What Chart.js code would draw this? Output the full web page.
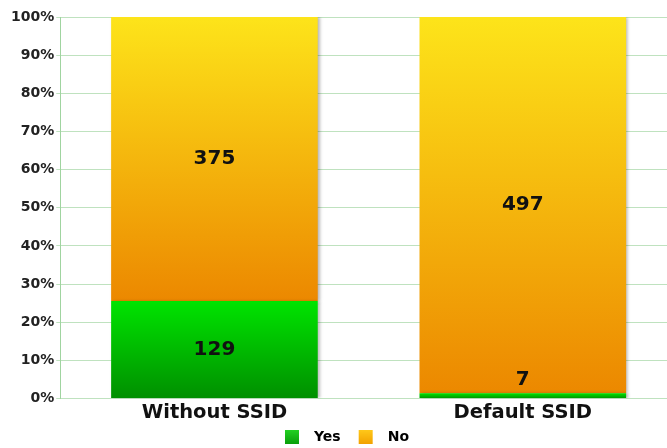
<!DOCTYPE html>
<html>
<head>
<meta charset="utf-8">
<script src="https://cdn.jsdelivr.net/npm/chart.js@4/dist/chart.umd.min.js"></script>
<style>
  html, body { margin: 0; padding: 0; background: #fff; overflow: hidden; }
  #wrap { position: relative; width: 677px; height: 448px; }
</style>
</head>
<body>
<div id="wrap"><canvas id="c"></canvas></div>
<script>
// Survey answers per SSID group
const categories = ['Without SSID', 'Default SSID'];
const seriesNames = ['Yes', 'No'];
const yesCounts = [129, 7];
const noCounts = [375, 497];
const yTicks = [0, 10, 20, 30, 40, 50, 60, 70, 80, 90, 100];

const totals = categories.map((_, i) => yesCounts[i] + noCounts[i]);
const toPct = arr => arr.map((v, i) => v / totals[i] * 100);
const counts = [yesCounts, noCounts];
const FONT = '"DejaVu Sans", Verdana, sans-serif';

// Vertical gradient spanning each stacked segment
function segmentGradient(topColor, bottomColor) {
  return function (ctx) {
    const chart = ctx.chart;
    if (!chart.chartArea || ctx.type !== 'data') return bottomColor;
    const y = chart.scales.y;
    const ds = ctx.datasetIndex, i = ctx.dataIndex;
    let start = 0;
    for (let d = 0; d < ds; d++) start += chart.data.datasets[d].data[i];
    const end = start + chart.data.datasets[ds].data[i];
    const yTop = y.getPixelForValue(end), yBot = y.getPixelForValue(start);
    if (!isFinite(yTop) || !isFinite(yBot) || yTop === yBot) return bottomColor;
    const g = chart.ctx.createLinearGradient(0, yTop, 0, yBot);
    g.addColorStop(0, topColor);
    g.addColorStop(1, bottomColor);
    return g;
  };
}

// Legend swatch: a square with some breathing room on both sides
function legendSwatch(topColor, bottomColor) {
  const cv = document.createElement('canvas');
  cv.width = 30; cv.height = 14;
  const c = cv.getContext('2d');
  const g = c.createLinearGradient(0, 0, 0, 14);
  g.addColorStop(0, topColor);
  g.addColorStop(1, bottomColor);
  c.fillStyle = g;
  c.fillRect(8, 0, 14, 14);
  return cv;
}
const yesSwatch = legendSwatch('#22d022', '#0a9e0a');
const noSwatch = legendSwatch('#ffc81a', '#f2a200');

// Soft shadow to the right of the bars
const barShadow = {
  id: 'barShadow',
  beforeDatasetsDraw(chart) {
    const c = chart.ctx;
    c.save();
    c.shadowColor = 'rgba(0,0,0,0.28)';
    c.shadowBlur = 3;
    c.shadowOffsetX = 2;
    c.shadowOffsetY = 0;
  },
  afterDatasetsDraw(chart) { chart.ctx.restore(); }
};

// Count labels inside (or just above) each segment
const countLabels = {
  id: 'countLabels',
  afterDatasetsDraw(chart) {
    const c = chart.ctx;
    c.save();
    c.font = 'bold 20px ' + FONT;
    c.fillStyle = '#111';
    c.textAlign = 'center';
    c.textBaseline = 'middle';
    chart.data.datasets.forEach((ds, d) => {
      chart.getDatasetMeta(d).data.forEach((bar, i) => {
        const top = Math.min(bar.y, bar.base), bot = Math.max(bar.y, bar.base);
        const h = bot - top;
        const ty = h > 26 ? (top + bot) / 2 : top - 14;
        c.fillText(String(counts[d][i]), bar.x, ty);
      });
    });
    c.restore();
  }
};

new Chart(document.getElementById('c'), {
  type: 'bar',
  data: {
    labels: categories,
    datasets: [
      {
        label: seriesNames[0],
        data: toPct(yesCounts),
        backgroundColor: segmentGradient('#00e400', '#008f00'),
        borderWidth: 0
      },
      {
        label: seriesNames[1],
        data: toPct(noCounts),
        backgroundColor: segmentGradient('#fde41a', '#ec8800'),
        borderWidth: 0
      }
    ]
  },
  options: {
    responsive: true,
    maintainAspectRatio: false,
    animation: false,
    layout: { padding: { top: 17, left: 9, right: 0, bottom: -6 } },
    datasets: { bar: { barPercentage: 0.67, categoryPercentage: 1 } },
    plugins: {
      tooltip: { enabled: false },
      legend: {
        position: 'bottom',
        labels: {
          usePointStyle: true,
          pointStyleWidth: 30,
          boxHeight: 14,
          padding: 10,
          color: '#444',
          font: { family: FONT, size: 14, weight: 'bold' },
          generateLabels() {
            return [
              { text: seriesNames[0], pointStyle: yesSwatch, lineWidth: 0, datasetIndex: 0 },
              { text: seriesNames[1], pointStyle: noSwatch, lineWidth: 0, datasetIndex: 1 }
            ];
          }
        }
      }
    },
    scales: {
      x: {
        stacked: true,
        grid: { display: false },
        border: { display: false },
        ticks: {
          color: '#111',
          padding: -5,
          font: { family: FONT, size: 19.5, weight: 'bold' }
        }
      },
      y: {
        stacked: true,
        min: 0,
        max: 100,
        afterBuildTicks(axis) { axis.ticks = yTicks.map(v => ({ value: v })); },
        grid: { color: '#bfe2bf', lineWidth: 1, drawTicks: true, tickLength: 4 },
        border: { color: '#a0d4a0', width: 1 },
        ticks: {
          color: '#222',
          padding: 2,
          font: { family: FONT, size: 14, weight: 'bold' },
          callback: v => v + '%'
        }
      }
    }
  },
  plugins: [barShadow, countLabels]
});
</script>
</body>
</html>
